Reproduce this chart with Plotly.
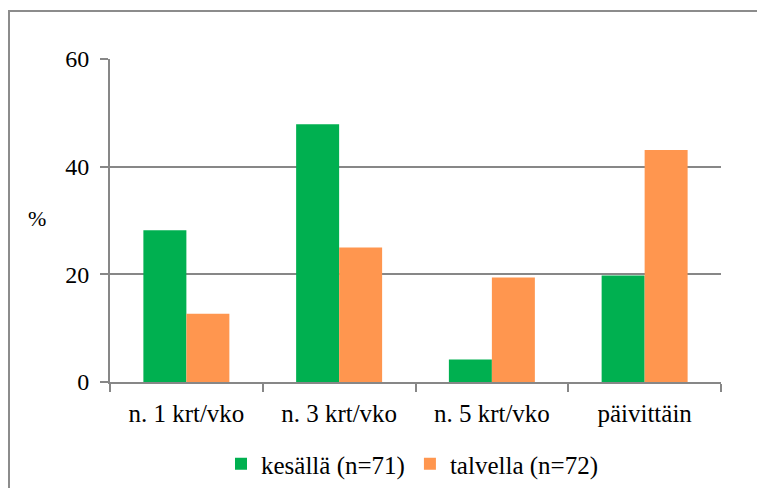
import plotly.graph_objects as go

categories = ["n. 1 krt/vko", "n. 3 krt/vko", "n. 5 krt/vko", "päivittäin"]
summer_label = "kesällä (n=71)"
winter_label = "talvella (n=72)"
summer_values = [28.2, 47.9, 4.2, 19.8]
winter_values = [12.7, 25.0, 19.4, 43.1]
y_ticks = [0, 20, 40, 60]

W, H = 757, 488
L, R, T, B = 110, 36, 59, 106
pw, ph = W - L - R, H - T - B

def px_x(x):
    return (x - L) / pw

def px_y(y):
    return (H - B - y) / ph

FONT = "Liberation Serif"
GRID = "#878787"

fig = go.Figure()
fig.add_trace(go.Bar(x=categories, y=summer_values, name=summer_label,
                     marker=dict(color="#00B050", line=dict(width=0))))
fig.add_trace(go.Bar(x=categories, y=winter_values, name=winter_label,
                     marker=dict(color="#FF964F", line=dict(width=0))))

fig.update_layout(
    width=W, height=H,
    margin=dict(l=L, r=R, t=T, b=B, pad=0, autoexpand=False),
    paper_bgcolor="white", plot_bgcolor="white",
    barmode="group", bargap=0.437, bargroupgap=0,
    font=dict(family=FONT, size=24, color="black"),
    showlegend=True,
    legend=dict(orientation="h", x=px_x(412), xanchor="center",
                y=px_y(464), yanchor="middle",
                font=dict(family=FONT, size=25, color="black"),
                itemwidth=30, tracegroupgap=0),
    xaxis=dict(type="category", showgrid=False, showline=True, linecolor=GRID,
               linewidth=2, ticks="outside", tickson="boundaries", ticklen=8,
               tickwidth=2, tickcolor=GRID, tickfont=dict(family=FONT, size=25),
               ticklabelstandoff=8, automargin=False),
    yaxis=dict(range=[0, 60], tickvals=y_ticks, showgrid=True, gridcolor=GRID,
               gridwidth=2, showline=True, linecolor=GRID, linewidth=2,
               ticks="outside", ticklen=8, tickwidth=2, tickcolor=GRID,
               tickfont=dict(family=FONT, size=24), zeroline=False,
               ticklabelstandoff=6, automargin=False),
    shapes=[dict(type="rect", xref="paper", yref="paper",
                 x0=px_x(9), x1=px_x(765), y0=px_y(11), y1=px_y(500),
                 line=dict(color="#8C8C8C", width=2), fillcolor="rgba(0,0,0,0)",
                 layer="below")],
    annotations=[dict(text="%", xref="paper", yref="paper", x=px_x(37), y=px_y(218),
                      xanchor="center", yanchor="middle", showarrow=False,
                      font=dict(family=FONT, size=22, color="black"))],
)

fig.write_html("out.html")
